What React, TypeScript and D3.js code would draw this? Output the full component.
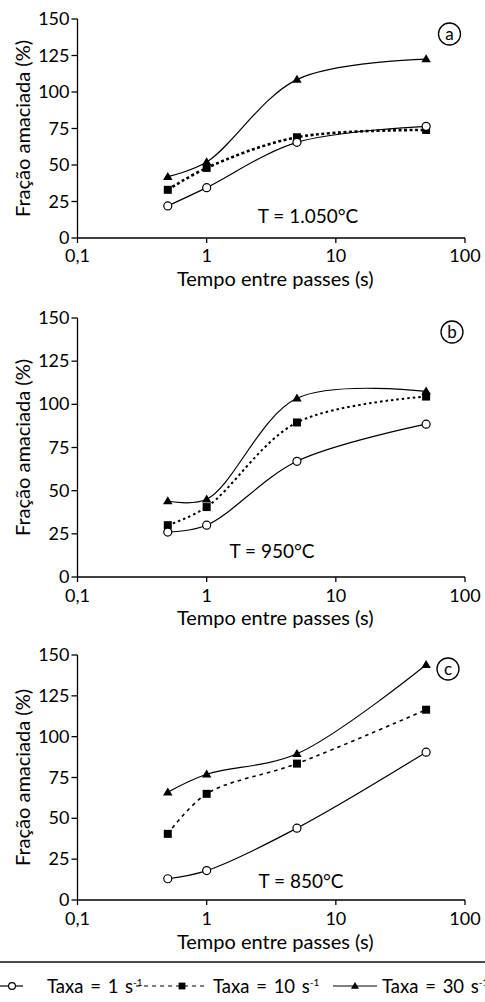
import React from 'react';
import * as d3 from 'd3';

// tempo entre passes (s)
const tempos = [0.5, 1, 5, 50];
const xTicks = [0.1, 1, 10, 100];
const xTickLabels = ['0,1', '1', '10', '100'];
const yTicks = [0, 25, 50, 75, 100, 125, 150];

// fração amaciada (%) - T = 1.050 °C
const a_taxa1 = [22, 34.5, 65.5, 76.5];
const a_taxa10 = [33, 48, 69, 74];
const a_taxa30 = [42, 52, 108.5, 122.5];
// T = 950 °C
const b_taxa1 = [26, 30, 67, 88.5];
const b_taxa10 = [30, 40.5, 89.5, 104.5];
const b_taxa30 = [44, 45, 103.5, 107.5];
// T = 850 °C
const c_taxa1 = [13, 18, 44, 90.5];
const c_taxa10 = [40.5, 65, 83.5, 116.5];
const c_taxa30 = [66, 77, 89.5, 144];

const panelTags = ['a', 'b', 'c'];
const panelTemps = ['T = 1.050°C', 'T = 950°C', 'T = 850°C'];
const panelSeries = [
  [a_taxa1, a_taxa10, a_taxa30],
  [b_taxa1, b_taxa10, b_taxa30],
  [c_taxa1, c_taxa10, c_taxa30],
];
const legendRates = ['1', '10', '30'];

// layout only
const LAYOUT = [
  { top: 19, bottom: 238, tx: 308, ty: 223, cx: 449.5, cy: 34, dash: '3 2.5', dw: 2.6, lab: 24, tit: 48 },
  { top: 318, bottom: 577, tx: 272, ty: 558, cx: 452, cy: 332, dash: '2.5 3', dw: 2, lab: 25, tit: 48 },
  { top: 655, bottom: 900, tx: 301, ty: 888, cx: 448, cy: 669, dash: '3.5 4', dw: 1.6, lab: 25, tit: 49 },
];
const X0 = 77.5;
const X1 = 465;
const FONT = 'Lato, "Open Sans", sans-serif';

const x = d3.scaleLog().domain([0.1, 100]).range([X0, X1]);

function Marker({ kind, cx, cy, s = 1 }: { kind: number; cx: number; cy: number; s?: number }) {
  if (kind === 0) return <circle cx={cx} cy={cy} r={4 * s} fill="#fff" stroke="#000" strokeWidth={1.2} />;
  if (kind === 1) return <rect x={cx - 4 * s} y={cy - 4 * s} width={8 * s} height={8 * s} fill="#000" />;
  const h = 8 * s, w = 9.5 * s;
  return <path d={`M${cx},${cy - h * 0.6}L${cx + w / 2},${cy + h * 0.4}L${cx - w / 2},${cy + h * 0.4}Z`} fill="#000" />;
}

function Panel({ i }: { i: number }) {
  const L = LAYOUT[i];
  const y = d3.scaleLinear().domain([0, 150]).range([L.bottom, L.top]);
  const line = d3.line<number>()
    .x((_, k) => x(tempos[k]))
    .y(v => y(v))
    .curve(d3.curveCatmullRom.alpha(0.5));
  const mid = (L.top + L.bottom) / 2;
  return (
    <g fontFamily={FONT} fill="#000">
      {/* axes */}
      <line x1={X0} x2={X1} y1={L.bottom} y2={L.bottom} stroke="#000" strokeWidth={1.3} />
      <line x1={X0} x2={X0} y1={L.top} y2={L.bottom} stroke="#000" strokeWidth={1.3} />
      {yTicks.map(t => (
        <g key={t}>
          <line x1={X0 - 6} x2={X0} y1={y(t)} y2={y(t)} stroke="#000" strokeWidth={1.3} />
          <text x={X0 - 8} y={y(t)} dy="0.34em" textAnchor="end" fontSize={18}>{t}</text>
        </g>
      ))}
      {xTicks.map((t, k) => (
        <g key={t}>
          <line x1={x(t)} x2={x(t)} y1={L.bottom} y2={L.bottom + 5} stroke="#000" strokeWidth={1.3} />
          <text x={x(t)} y={L.bottom + L.lab} textAnchor="middle" fontSize={18}>{xTickLabels[k]}</text>
        </g>
      ))}
      <text x={x(Math.sqrt(10)) + 4} y={L.bottom + L.tit} textAnchor="middle" fontSize={20}>Tempo entre passes (s)</text>
      <text transform={`translate(29.5,${mid}) rotate(-90)`} textAnchor="middle" fontSize={20}>Fração amaciada (%)</text>
      {/* series */}
      {panelSeries[i].map((vals, s) => (
        <path key={s} d={line(vals) || ''} fill="none" stroke="#000"
          strokeWidth={s === 1 ? L.dw : 1.2}
          strokeDasharray={s === 1 ? L.dash : undefined} />
      ))}
      {[1, 2, 0].map(s => panelSeries[i][s].map((v, k) => (
        <Marker key={`${s}-${k}`} kind={s} cx={x(tempos[k])} cy={y(v)} />
      )))}
      <text x={L.tx} y={L.ty} textAnchor="middle" fontSize={19}>{panelTemps[i]}</text>
      <circle cx={L.cx} cy={L.cy} r={11} fill="none" stroke="#000" strokeWidth={1.3} />
      <text x={L.cx} y={L.cy} dy="0.35em" textAnchor="middle" fontSize={17}>{panelTags[i]}</text>
    </g>
  );
}

function Legend() {
  const yL = 986;
  const items = [
    { kind: 0, x1: 0, x2: 23, mx: 12, tx: 47, dash: undefined as string | undefined },
    { kind: 1, x1: 136, x2: 208, mx: 182, tx: 213, dash: '4 4' },
    { kind: 2, x1: 333, x2: 377, mx: 355, tx: 382, dash: undefined },
  ];
  return (
    <g fontFamily={FONT}>
      <line x1={0} x2={485} y1={962} y2={962} stroke="#4a4a4a" strokeWidth={2.2} />
      {items.map((it, k) => (
        <g key={k}>
          <line x1={it.x1} x2={it.x2} y1={yL} y2={yL} stroke="#000" strokeWidth={1.2} strokeDasharray={it.dash} />
          <Marker kind={it.kind} cx={it.mx} cy={yL} s={0.85} />
          <text x={it.tx} y={yL + 6.5} fontSize={18.5} wordSpacing={2}>
            Taxa = {legendRates[k]} s<tspan fontSize={10} dy={-7}>-1</tspan>
          </text>
        </g>
      ))}
    </g>
  );
}

export default function App() {
  return (
    <svg width={485} height={1002} style={{ position: 'absolute', left: 0, top: 0, background: '#fff' }}>
      <rect width={485} height={1002} fill="#fff" />
      {LAYOUT.map((_, i) => <Panel key={i} i={i} />)}
      <Legend />
    </svg>
  );
}
